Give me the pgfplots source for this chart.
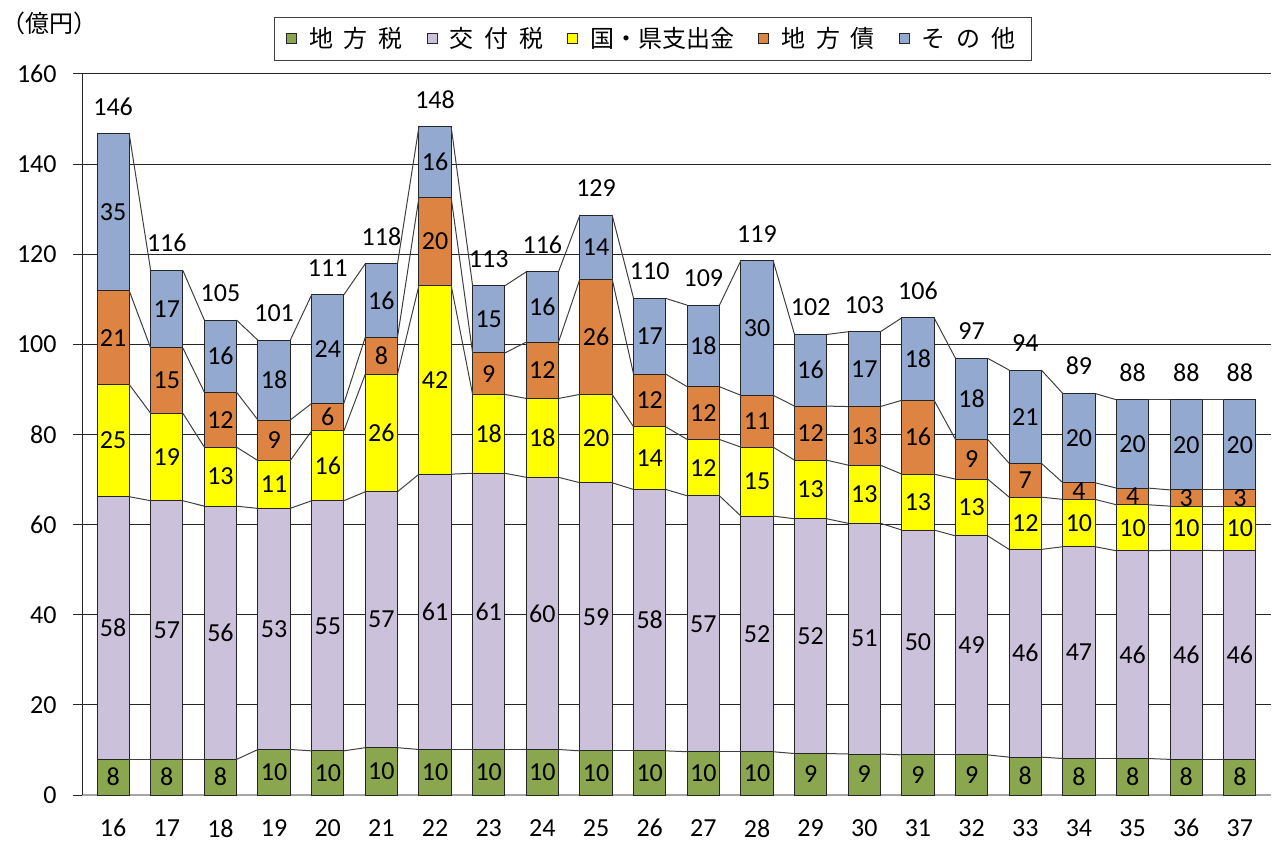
\documentclass[border=0pt]{standalone}
\usepackage{fontspec}
\setmainfont{Carlito}
\newfontfamily\jp{Noto Sans CJK JP}
\usepackage{pgfplots}
\usepackage{pgfplotstable}
\pgfplotsset{compat=1.18}

\definecolor{cG}{HTML}{8AA64E}
\definecolor{cK}{HTML}{CCC1DA}
\definecolor{cY}{HTML}{FFFF00}
\definecolor{cO}{HTML}{DE8443}
\definecolor{cS}{HTML}{94A9D0}
\definecolor{cL}{HTML}{404040}
\newcommand\lblfont{\fontsize{13}{15}\selectfont}

\pgfplotstableread{
x g k y o s lg lk ly lo ls tot
0 7.9 58.3 24.9 20.8 34.8 8 58 25 21 35 146
1 7.9 57.4 19.4 14.5 17.2 8 57 19 15 17 116
2 7.9 56.2 13.1 12.2 16.0 8 56 13 12 16 105
3 10.1 53.5 10.6 9.0 17.7 10 53 11 9 18 101
4 9.8 55.5 15.5 6.1 24.1 10 55 16 6 24 111
5 10.5 56.8 26.1 8.2 16.3 10 57 26 8 16 118
6 10.1 61.1 41.9 19.5 15.7 10 61 42 20 16 148
7 10.1 61.3 17.5 9.2 14.9 10 61 18 9 15 113
8 10.1 60.4 17.5 12.5 15.6 10 60 18 12 16 116
9 9.8 59.5 19.6 25.6 14.2 10 59 20 26 14 129
10 9.8 58.0 13.9 11.7 16.8 10 58 14 12 17 110
11 9.6 56.8 12.5 11.7 18.1 10 57 12 12 18 109
12 9.6 52.3 15.3 11.5 29.9 10 52 15 11 30 119
13 9.2 52.1 13.0 12.0 15.9 9 52 13 12 16 102
14 9.1 51.2 12.9 13.0 16.6 9 51 13 13 17 103
15 8.9 49.9 12.4 16.4 18.3 9 50 13 16 18 106
16 8.9 48.6 12.6 8.8 18.0 9 49 13 9 18 97
17 8.4 46.1 11.6 7.5 20.7 8 46 12 7 21 94
18 8.1 47.0 10.5 3.7 19.8 8 47 10 4 20 89
19 8.1 46.1 10.2 3.7 19.6 8 46 10 4 20 88
20 7.9 46.4 9.8 3.6 20.0 8 46 10 3 20 88
21 7.9 46.3 9.9 3.6 20.0 8 46 10 3 20 88
}\data

\pgfplotstablecreatecol[create col/expr={\thisrow{g}}]{c1}\data
\pgfplotstablecreatecol[create col/expr={\thisrow{c1}+\thisrow{k}}]{c2}\data
\pgfplotstablecreatecol[create col/expr={\thisrow{c2}+\thisrow{y}}]{c3}\data
\pgfplotstablecreatecol[create col/expr={\thisrow{c3}+\thisrow{o}}]{c4}\data
\pgfplotstablecreatecol[create col/expr={\thisrow{c4}+\thisrow{s}}]{c5}\data
\pgfplotstablecreatecol[create col/expr={\nextrow{c1}-\thisrow{c1}}]{d1}\data
\pgfplotstablecreatecol[create col/expr={\nextrow{c2}-\thisrow{c2}}]{d2}\data
\pgfplotstablecreatecol[create col/expr={\nextrow{c3}-\thisrow{c3}}]{d3}\data
\pgfplotstablecreatecol[create col/expr={\nextrow{c4}-\thisrow{c4}}]{d4}\data
\pgfplotstablecreatecol[create col/expr={\nextrow{c5}-\thisrow{c5}}]{d5}\data

\begin{document}
\begin{tikzpicture}
\useasboundingbox (0,0) rectangle (638.5pt,420.5pt);
\pgfplotsset{base/.style={at={(41pt,23pt)}, anchor=south west, scale only axis,
  width=594.5pt, height=360.5pt, xmin=-0.58, xmax=21.58, ymin=0, ymax=160},
  lbl/.style={draw=none, mark=none, nodes near coords, point meta=explicit symbolic,
    every node near coord/.append style={font=\lblfont, text=black, anchor=center}}}
\begin{axis}[base, ybar stacked, bar width=0.6,
  axis x line*=bottom, axis y line*=left, axis line style={-},
  x axis line style={draw=black!35, line width=0.6pt},
  y axis line style={draw=black!85, line width=0.5pt},
  ytick={0,20,...,160}, ymajorgrids, grid style={draw=black!85, line width=0.5pt},
  xtick={0,...,21},
  xticklabels={16,17,18,19,20,21,22,23,24,25,26,27,28,29,30,31,32,33,34,35,36,37},
  tick align=outside, major tick length=4.5pt,
  ytick style={draw=black!85, line width=0.5pt}, xtick style={draw=none},
  /pgf/number format/assume math mode=true,
  ticklabel style={font=\lblfont},
  yticklabel style={inner sep=0pt, xshift=-8pt},
  xticklabel style={inner sep=0pt, yshift=-7.5pt},
  legend columns=5,
  legend style={at={(0.48,1)}, anchor=south, yshift=6.5pt, draw=black!75,
    font=\jp\fontsize{12}{14}\selectfont, inner xsep=6pt, inner ysep=3pt,
    /tikz/every even column/.append style={column sep=10pt},
    /tikz/every odd column/.append style={column sep=4pt}},
  legend image code/.code={\draw[#1, draw=black!85, line width=0.5pt] (0pt,-2.5pt) rectangle (5pt,2.5pt);},
]
\addplot[fill=cG, draw=black!85, line width=0.5pt] table[x=x,y=g]{\data};
\addplot[fill=cK, draw=black!85, line width=0.5pt] table[x=x,y=k]{\data};
\addplot[fill=cY, draw=black!85, line width=0.5pt] table[x=x,y=y]{\data};
\addplot[fill=cO, draw=black!85, line width=0.5pt] table[x=x,y=o]{\data};
\addplot[fill=cS, draw=black!85, line width=0.5pt] table[x=x,y=s]{\data};
\addlegendentry{地\hspace{0.45em}方\hspace{0.45em}税}
\addlegendentry{交\hspace{0.45em}付\hspace{0.45em}税}
\addlegendentry{国・県支出金}
\addlegendentry{地\hspace{0.45em}方\hspace{0.45em}債}
\addlegendentry{そ\hspace{0.45em}の\hspace{0.45em}他}
\end{axis}
\begin{axis}[base, hide axis]
\foreach \c/\d in {c1/d1,c2/d2,c3/d3,c4/d4,c5/d5}{
  \addplot[draw=cL, line width=0.5pt,
    quiver={u=0.4, v=\thisrow{\d}}, skip coords between index={21}{22}]
    table[x expr=\thisrow{x}+0.3, y=\c]{\data};
}
\addplot[lbl] table[x=x, y expr=\thisrow{g}/2, meta=lg]{\data};
\addplot[lbl] table[x=x, y expr=\thisrow{c1}+\thisrow{k}/2, meta=lk]{\data};
\addplot[lbl] table[x=x, y expr=\thisrow{c2}+\thisrow{y}/2, meta=ly]{\data};
\addplot[lbl] table[x=x, y expr=\thisrow{c3}+\thisrow{o}/2, meta=lo]{\data};
\addplot[lbl] table[x=x, y expr=\thisrow{c4}+\thisrow{s}/2, meta=ls]{\data};
\addplot[lbl, every node near coord/.append style={anchor=south, inner sep=0pt, yshift=9pt}]
  table[x=x, y=c5, meta=tot]{\data};
\end{axis}
\node[anchor=west, inner sep=0pt, font=\jp\fontsize{12}{14}\selectfont] at (0.5pt,409pt) {（億円）};
\end{tikzpicture}
\end{document}
